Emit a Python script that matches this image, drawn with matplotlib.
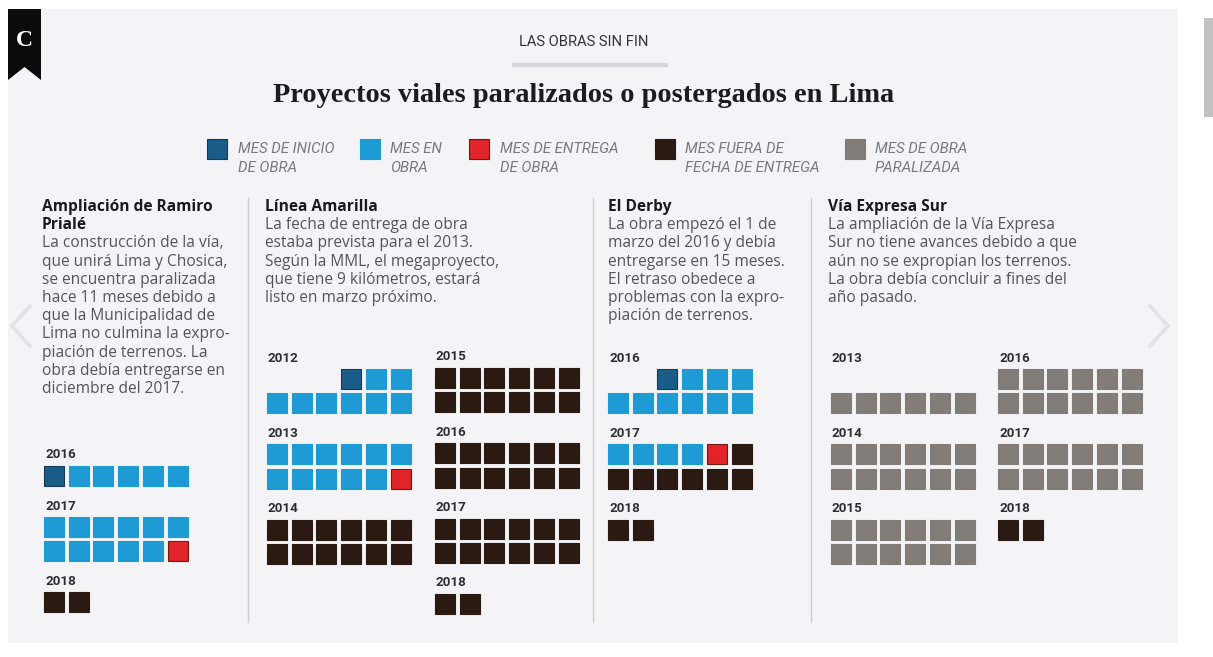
import matplotlib
matplotlib.use("Agg")
import matplotlib.pyplot as plt
from matplotlib.patches import Rectangle, Polygon
from matplotlib import font_manager

# ---------------- DATA ----------------
# month state codes: 0 = no mark, 1 = start month, 2 = month in works,
# 3 = delivery month, 4 = month past delivery date, 5 = month paralysed
STATE_LABELS = [
    ("MES DE INICIO", "DE OBRA"),
    ("MES EN", "OBRA"),
    ("MES DE ENTREGA", "DE OBRA"),
    ("MES FUERA DE", "FECHA DE ENTREGA"),
    ("MES DE OBRA", "PARALIZADA"),
]

RAMIRO_TITLE = ["Ampliación de Ramiro", "Prialé"]
RAMIRO_TEXT = [
    "La construcción de la vía,",
    "que unirá Lima y Chosica,",
    "se encuentra paralizada",
    "hace 11 meses debido a",
    "que la Municipalidad de",
    "Lima no culmina la expro-",
    "piación de terrenos. La",
    "obra debía entregarse en",
    "diciembre del 2017.",
]
RAMIRO_YEARS = [2016, 2017, 2018]
RAMIRO_MONTHS = [
    [0, 0, 0, 0, 0, 0, 1, 2, 2, 2, 2, 2],
    [2, 2, 2, 2, 2, 2, 2, 2, 2, 2, 2, 3],
    [4, 4, 0, 0, 0, 0, 0, 0, 0, 0, 0, 0],
]

AMARILLA_TITLE = ["Línea Amarilla"]
AMARILLA_TEXT = [
    "La fecha de entrega de obra",
    "estaba prevista para el 2013.",
    "Según la MML, el megaproyecto,",
    "que tiene 9 kilómetros, estará",
    "listo en marzo próximo.",
]
AMARILLA_YEARS = [2012, 2013, 2014, 2015, 2016, 2017, 2018]
AMARILLA_MONTHS = [
    [0, 0, 0, 1, 2, 2, 2, 2, 2, 2, 2, 2],
    [2, 2, 2, 2, 2, 2, 2, 2, 2, 2, 2, 3],
    [4, 4, 4, 4, 4, 4, 4, 4, 4, 4, 4, 4],
    [4, 4, 4, 4, 4, 4, 4, 4, 4, 4, 4, 4],
    [4, 4, 4, 4, 4, 4, 4, 4, 4, 4, 4, 4],
    [4, 4, 4, 4, 4, 4, 4, 4, 4, 4, 4, 4],
    [4, 4, 0, 0, 0, 0, 0, 0, 0, 0, 0, 0],
]

DERBY_TITLE = ["El Derby"]
DERBY_TEXT = [
    "La obra empezó el 1 de",
    "marzo del 2016 y debía",
    "entregarse en 15 meses.",
    "El retraso obedece a",
    "problemas con la expro-",
    "piación de terrenos.",
]
DERBY_YEARS = [2016, 2017, 2018]
DERBY_MONTHS = [
    [0, 0, 1, 2, 2, 2, 2, 2, 2, 2, 2, 2],
    [2, 2, 2, 2, 3, 4, 4, 4, 4, 4, 4, 4],
    [4, 4, 0, 0, 0, 0, 0, 0, 0, 0, 0, 0],
]

VIA_TITLE = ["Vía Expresa Sur"]
VIA_TEXT = [
    "La ampliación de la Vía Expresa",
    "Sur no tiene avances debido a que",
    "aún no se expropian los terrenos.",
    "La obra debía concluir a fines del",
    "año pasado.",
]
VIA_YEARS = [2013, 2014, 2015, 2016, 2017, 2018]
VIA_MONTHS = [
    [0, 0, 0, 0, 0, 0, 5, 5, 5, 5, 5, 5],
    [5, 5, 5, 5, 5, 5, 5, 5, 5, 5, 5, 5],
    [5, 5, 5, 5, 5, 5, 5, 5, 5, 5, 5, 5],
    [5, 5, 5, 5, 5, 5, 5, 5, 5, 5, 5, 5],
    [5, 5, 5, 5, 5, 5, 5, 5, 5, 5, 5, 5],
    [4, 4, 0, 0, 0, 0, 0, 0, 0, 0, 0, 0],
]

KICKER = "LAS OBRAS SIN FIN"
TITLE = "Proyectos viales paralizados o postergados en Lima"

# ---------------- STYLE ----------------
FACE = {1: "#1a5c88", 2: "#1e9ad4", 3: "#e1242a", 4: "#2a1a11", 5: "#827c79"}
EDGE = {1: "#143a55", 2: "#1e9ad4", 3: "#6e1d16", 4: "#2a1a11", 5: "#827c79"}

names = {f.name for f in font_manager.fontManager.ttflist}
NARROW = "Liberation Sans Narrow" if "Liberation Sans Narrow" in names else "Roboto"
BODY = "Open Sans"
BODY_SIZE = 11.2

W, H = 1213, 657
fig = plt.figure(figsize=(W / 100, H / 100), dpi=100, facecolor="white")
ax = fig.add_axes([0, 0, 1, 1])
ax.set_xlim(0, W)
ax.set_ylim(H, 0)
ax.axis("off")

# panel background
ax.add_patch(Rectangle((8, 9), 1170, 634, facecolor="#f4f4f7", edgecolor="none", zorder=0))
# scrollbar
ax.add_patch(Rectangle((1204, 18), 9, 99, facecolor="#c2c2c2", edgecolor="none", zorder=1))

# logo ribbon
ax.add_patch(Polygon([(8, 9), (41, 9), (41, 80), (24.5, 67), (8, 80)], closed=True,
                     facecolor="#0b0b0b", edgecolor="none", zorder=2))
ax.text(24.5, 40, "C", color="white", fontsize=17, family="Liberation Serif",
        fontweight="bold", ha="center", va="center", zorder=3)

# chevrons
ax.plot([30, 12, 30], [306, 326, 346], color="#e2e2e6", lw=2.5, solid_joinstyle="miter", zorder=1)
ax.plot([1150, 1168, 1150], [306, 326, 346], color="#e2e2e6", lw=2.5, solid_joinstyle="miter", zorder=1)

# header
ax.text(584, 42, KICKER, fontsize=10.6, family=[NARROW, "DejaVu Sans"], color="#333333",
        ha="center", va="center")
ax.plot([512, 668], [65, 65], color="#d6d6da", lw=3, solid_capstyle="butt")
ax.text(584, 95, TITLE, fontsize=20.4, family="Liberation Serif", fontweight="bold",
        color="#1c1c1c", ha="center", va="center")

# legend
LEG_SQ_X = [207, 360, 469, 655, 845]
LEG_TX_X = [238, 390, 500, 685, 875]
for i, (l1, l2) in enumerate(STATE_LABELS):
    code = i + 1
    ax.add_patch(Rectangle((LEG_SQ_X[i], 139), 20, 20, facecolor=FACE[code],
                           edgecolor=EDGE[code], lw=0.8))
    for j, t in enumerate((l1, l2)):
        ax.text(LEG_TX_X[i], 149 + j * 19.5, t, fontsize=10.8, style="italic",
                family=[NARROW, "DejaVu Sans"], color="#7a7a7a", ha="left", va="center")

# dividers
for x in [248, 593, 811]:
    ax.plot([x, x], [198, 622], color="#cfcfd4", lw=1)

LINE = 18.2
SQ = 20
PX = 24.7
PY = 24.3


def draw_text(x, title_lines, body_lines, y0=207):
    y = y0
    for t in title_lines:
        ax.text(x, y, t, fontsize=BODY_SIZE, family=BODY, fontweight="bold", color="#1a1a1a",
                ha="left", va="center")
        y += LINE
    for t in body_lines:
        ax.text(x, y, t, fontsize=BODY_SIZE, family=BODY, color="#555555", ha="left", va="center")
        y += LINE


def draw_grid(years, months, columns, col_x, y_start, collapse_empty_first=False):
    ys = list(y_start)
    for yr, ms, c in zip(years, months, columns):
        y = ys[c]
        x0 = col_x[c]
        ax.text(x0 + 1, y, str(yr), fontsize=9.6, family=[NARROW, "DejaVu Sans"],
                fontweight="bold", color="#2e2e2e", ha="left", va="center")
        rows = [ms[:6], ms[6:]]
        if collapse_empty_first and all(v == 0 for v in rows[0]):
            rows = rows[1:]
        if all(v == 0 for v in rows[-1]):
            rows = rows[:-1]
        top = y + 11
        for r, row in enumerate(rows):
            for k, code in enumerate(row):
                if code:
                    ax.add_patch(Rectangle((x0 + k * PX, top + r * PY), SQ, SQ,
                                           facecolor=FACE[code], edgecolor=EDGE[code], lw=0.8))
        nrows = max(len(rows), 1)
        ys[c] = top + (nrows - 1) * PY + SQ + 20


draw_text(42, RAMIRO_TITLE, RAMIRO_TEXT)
draw_grid(RAMIRO_YEARS, RAMIRO_MONTHS, [0, 0, 0], [44], [455], collapse_empty_first=True)

draw_text(265, AMARILLA_TITLE, AMARILLA_TEXT)
draw_grid(AMARILLA_YEARS, AMARILLA_MONTHS, [0, 0, 0, 1, 1, 1, 1], [267, 435], [358, 357])

draw_text(608, DERBY_TITLE, DERBY_TEXT)
draw_grid(DERBY_YEARS, DERBY_MONTHS, [0, 0, 0], [608], [358])

draw_text(828, VIA_TITLE, VIA_TEXT)
draw_grid(VIA_YEARS, VIA_MONTHS, [0, 0, 0, 1, 1, 1], [831, 998], [358, 358])

fig.savefig("out.png", dpi=100, facecolor="white")
